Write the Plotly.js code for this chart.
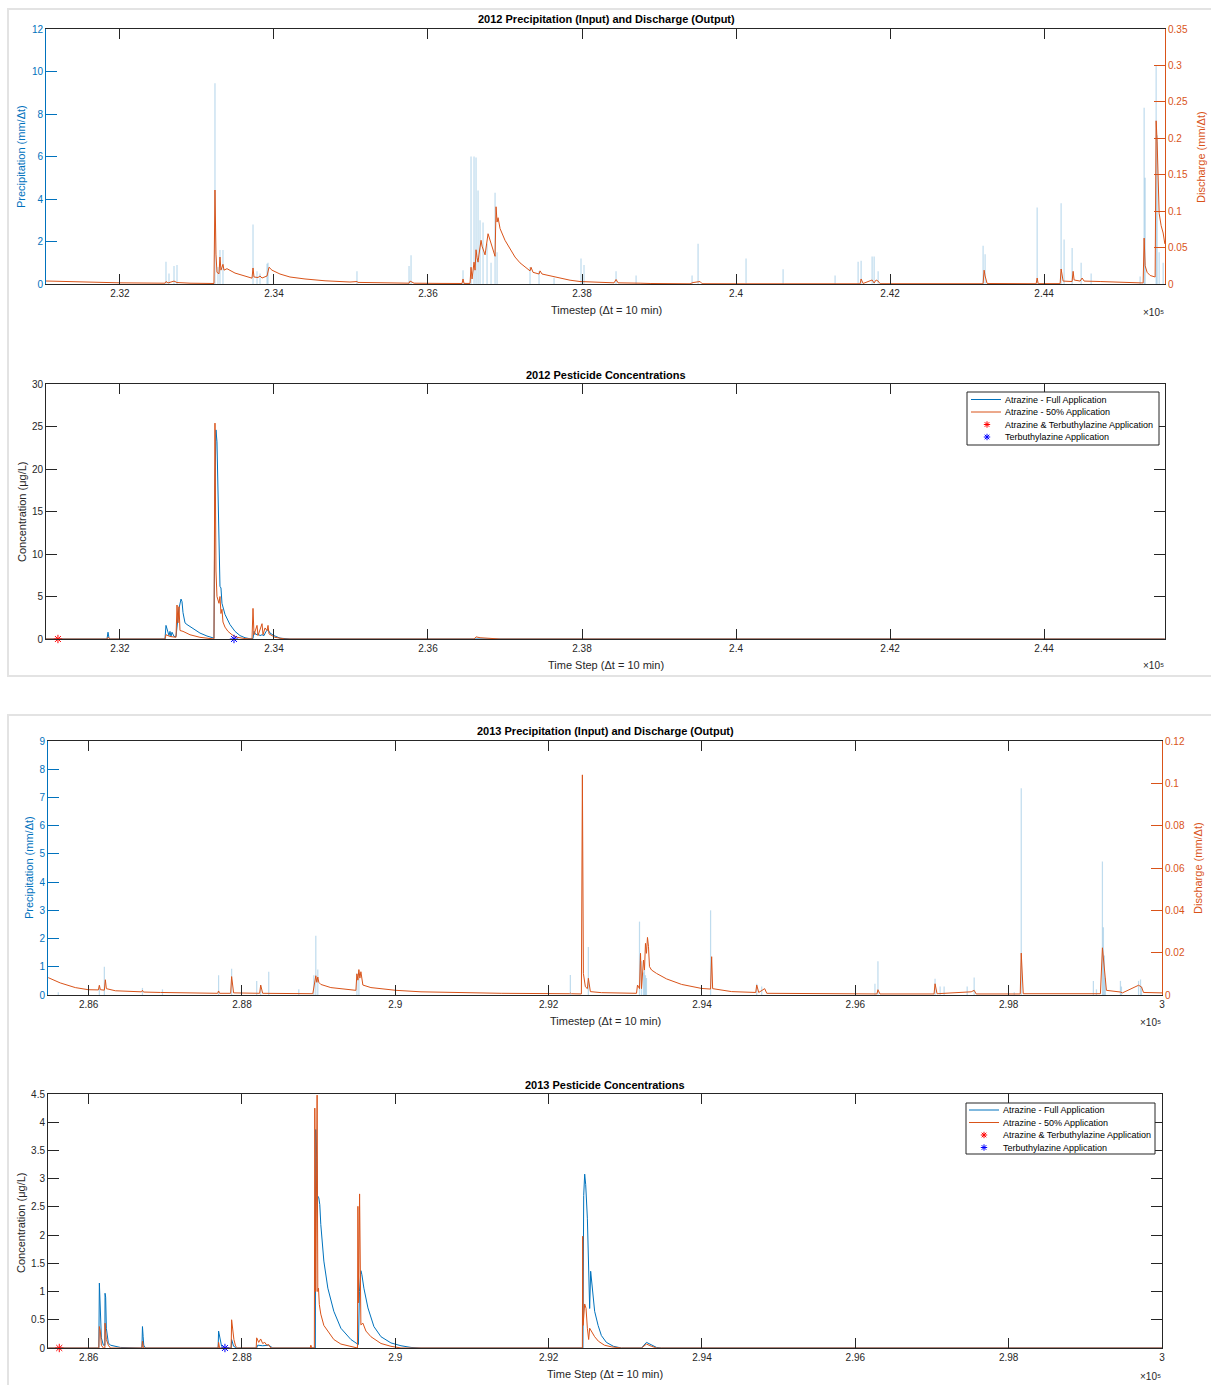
<!DOCTYPE html>
<html>
<head>
<meta charset="utf-8">
<script src="https://cdn.plot.ly/plotly-3.0.1.min.js"></script>
<style>
  body { margin: 0; background: #fff; }
  #chart { width: 1211px; height: 1385px; }
</style>
</head>
<body>
<div id="chart"></div>
<script>
// ---------- 2012 data ----------
var precip12T = [232598, 232637, 232702, 232741, 233234, 233273, 233299, 233338, 233728, 233780,
  233819, 233910, 233923, 235078, 235754, 235780, 236455, 236559, 236598, 236624,
  236650, 236676, 236715, 236767, 236819, 236871, 236897, 237325, 237442, 237637,
  237987, 238026, 238442, 238702, 239429, 239507, 240130, 240611, 241286, 241585,
  241624, 241767, 241793, 241845, 243208, 243234, 243910, 244221, 244260, 244364,
  244481, 244611, 245247, 245299, 245312, 245455, 245468, 245494, 245546]
var precip12 = [1.05, 0.5, 0.85, 0.9, 9.45, 0.8, 1.6, 1.6, 2.8, 0.6,
  0.5, 0.95, 1.0, 0.6, 0.85, 1.35, 0.65, 6.0, 6.0, 5.95,
  4.4, 3.0, 2.9, 1.9, 1.0, 4.3, 1.5, 0.8, 0.6, 0.3,
  1.2, 0.9, 0.6, 0.4, 0.4, 1.9, 1.2, 0.7, 0.4, 1.05,
  1.1, 1.3, 1.3, 0.6, 1.8, 1.4, 3.6, 3.8, 2.1, 1.7,
  1.0, 0.5, 0.35, 8.3, 5.0, 10.3, 7.0, 1.5, 1.0]

var discharge12T = [231040, 231481, 232000, 232585, 232598, 232624, 232702, 232741, 232910, 233221,
  233234, 233247, 233260, 233286, 233299, 233312, 233338, 233351, 233390, 233494,
  233624, 233715, 233728, 233741, 233793, 233819, 233845, 233910, 233936, 233974,
  234078, 234208, 234403, 234663, 234987, 235078, 235091, 235377, 235754, 235767,
  235793, 235819, 236156, 236442, 236455, 236468, 236546, 236559, 236572, 236585,
  236598, 236611, 236624, 236637, 236650, 236663, 236689, 236702, 236741, 236780,
  236806, 236845, 236871, 236884, 236897, 236910, 236936, 237000, 237065, 237130,
  237195, 237260, 237325, 237338, 237364, 237442, 237455, 237481, 237585, 237715,
  237845, 237974, 238169, 238416, 238442, 238468, 238754, 238884, 239403, 239442,
  239533, 239559, 240117, 240611, 240624, 241611, 241624, 241650, 241767, 241793,
  241819, 241845, 241871, 243208, 243221, 243234, 243260, 243897, 243910, 243923,
  244208, 244221, 244247, 244364, 244377, 244390, 244468, 244494, 244520, 244728,
  244987, 245247, 245286, 245299, 245312, 245338, 245377, 245442, 245455, 245468,
  245481, 245494, 245520, 245546, 245568]
var discharge12 = [0.0041, 0.0027, 0.0016, 0.0011, 0.0034, 0.0014, 0.004, 0.002, 0.0011, 0.0007,
  0.129, 0.041, 0.016, 0.014, 0.037, 0.019, 0.027, 0.019, 0.021, 0.015,
  0.011, 0.008, 0.022, 0.0096, 0.0089, 0.011, 0.0082, 0.011, 0.023, 0.019,
  0.0137, 0.0096, 0.0069, 0.0044, 0.0027, 0.0034, 0.0022, 0.0016, 0.0011, 0.004,
  0.0027, 0.0011, 0.0008, 0.0007, 0.0069, 0.0008, 0.0008, 0.023, 0.0069, 0.019,
  0.030, 0.019, 0.047, 0.036, 0.030, 0.041, 0.060, 0.052, 0.040, 0.069,
  0.060, 0.045, 0.038, 0.106, 0.085, 0.091, 0.076, 0.060, 0.048, 0.037,
  0.029, 0.023, 0.018, 0.023, 0.016, 0.0137, 0.018, 0.0137, 0.011, 0.0076,
  0.0052, 0.0034, 0.0022, 0.0016, 0.0062, 0.0016, 0.0011, 0.0007, 0.0003, 0.002,
  0.0034, 0.0004, 0.0003, 0.0011, 0.0003, 0.0003, 0.0069, 0.0007, 0.0055, 0.0014,
  0.0055, 0.004, 0.0004, 0.0004, 0.019, 0.011, 0.0007, 0.0004, 0.0082, 0.0005,
  0.0005, 0.0206, 0.004, 0.0034, 0.0174, 0.0055, 0.004, 0.0082, 0.004, 0.0034,
  0.0027, 0.0016, 0.0014, 0.063, 0.025, 0.016, 0.0117, 0.0096, 0.224, 0.195,
  0.137, 0.097, 0.080, 0.070, 0.055]

var full12T = [231040, 231832, 231845, 231858, 231871, 232585, 232598, 232611, 232624, 232637,
  232650, 232663, 232676, 232702, 232728, 232754, 232767, 232793, 232806, 232819,
  232845, 232871, 232936, 233039, 233130, 233221, 233234, 233247, 233260, 233273,
  233286, 233299, 233312, 233325, 233364, 233429, 233494, 233559, 233624, 233689,
  233728, 233741, 233767, 233793, 233819, 233845, 233871, 233897, 233923, 233949,
  234001, 234078, 234208, 245568]
var full12 = [0, 0, 0.8, 0.1, 0, 0, 1.6, 1.1, 0.9, 0.4,
  0.9, 0.3, 0.8, 0.3, 0.3, 2.5, 3.6, 4.7, 4.4, 3.1,
  1.9, 1.7, 1.3, 0.7, 0.35, 0.1, 18, 24.6, 23.2, 16.5,
  14.8, 6.2, 6.0, 4.2, 2.9, 1.7, 0.9, 0.4, 0.15, 0.03,
  0.05, 0.9, 0.5, 0.6, 0.4, 0.5, 0.4, 0.9, 1.1, 0.7,
  0.4, 0.1, 0, 0]

var half12T = [231040, 231832, 231845, 231871, 232585, 232598, 232650, 232728, 232741, 232754,
  232767, 232780, 232819, 232910, 233039, 233169, 233221, 233234, 233247, 233260,
  233286, 233299, 233312, 233325, 233338, 233364, 233403, 233455, 233520, 233624,
  233715, 233728, 233741, 233780, 233793, 233845, 233858, 233884, 233910, 233923,
  233936, 234013, 234143, 236598, 236624, 236676, 236806, 236936, 245568]
var half12 = [0, 0, 0.2, 0, 0, 0.5, 0.3, 0.2, 4.0, 1.9,
  3.8, 1.0, 0.9, 0.5, 0.2, 0.05, 0, 25.4, 8, 5.0,
  4.2, 5.0, 3.0, 3.5, 2.0, 1.4, 0.9, 0.5, 0.2, 0.05,
  0, 3.6, 0.5, 1.6, 0.4, 1.8, 0.5, 1.3, 1.0, 1.6,
  0.6, 0.2, 0, 0, 0.25, 0.15, 0.05, 0, 0]

var bothApp12T = [231195]
var terbApp12T = [233481]

// ---------- 2013 data ----------
var precip13T = [285604, 286140, 286205, 286702, 286963, 287695, 287865, 288192, 288244, 288349,
  288741, 288937, 288963, 288989, 289499, 289525, 292283, 292518, 293185, 293211,
  293237, 293250, 293263, 293276, 294112, 294714, 294779, 296256, 296295, 297040,
  297106, 297158, 297459, 297550, 298073, 298164, 299105, 299145, 299223, 299236,
  299249, 299262, 299458, 299471, 299694, 299720, 299733]
var precip13 = [0.1, 0.34, 1.0, 0.25, 0.2, 0.7, 0.93, 0.5, 0.35, 0.82,
  0.2, 0.7, 2.1, 0.9, 0.76, 0.6, 0.71, 1.7, 2.6, 1.2,
  0.8, 0.9, 0.7, 0.6, 3.0, 0.4, 0.3, 0.4, 1.2, 0.58,
  0.3, 0.3, 0.3, 0.62, 0.1, 7.33, 0.5, 0.2, 4.73, 2.4,
  1.4, 0.6, 0.5, 0.3, 0.5, 0.55, 0.3]

var discharge13T = [285473, 285630, 285826, 285996, 286127, 286140, 286153, 286205, 286218, 286231,
  286349, 286689, 286702, 286715, 286937, 287460, 287682, 287695, 287708, 287852,
  287865, 287891, 288231, 288244, 288270, 288924, 288950, 288963, 288976, 288989,
  289002, 289028, 289159, 289421, 289486, 289499, 289512, 289525, 289538, 289551,
  289577, 289682, 290009, 290335, 291381, 292270, 292283, 292296, 292427, 292440,
  292453, 292479, 292505, 292518, 292544, 292688, 293080, 293146, 293159, 293185,
  293198, 293211, 293237, 293250, 293263, 293276, 293289, 293302, 293315, 293342,
  293407, 293538, 293734, 293995, 294112, 294126, 294139, 294387, 294701, 294714,
  294740, 294818, 294845, 295302, 296282, 296295, 296321, 297027, 297040, 297066,
  297511, 297550, 297576, 298151, 298164, 298190, 299197, 299223, 299236, 299249,
  299275, 299458, 299484, 299694, 299733, 299759, 300000]
var discharge13 = [0.0082, 0.0057, 0.0035, 0.0025, 0.0024, 0.0046, 0.0025, 0.0023, 0.0072, 0.003,
  0.002, 0.0015, 0.0022, 0.0014, 0.0012, 0.0008, 0.0008, 0.0019, 0.0008, 0.0008,
  0.0087, 0.001, 0.0008, 0.0047, 0.0008, 0.0006, 0.0053, 0.0091, 0.006, 0.0085,
  0.006, 0.005, 0.0035, 0.0025, 0.0022, 0.010, 0.007, 0.012, 0.008, 0.011,
  0.0047, 0.0035, 0.0022, 0.0015, 0.0008, 0.0006, 0.0009, 0.0006, 0.0005, 0.104,
  0.0102, 0.0039, 0.003, 0.0079, 0.0016, 0.0011, 0.0008, 0.0008, 0.0047, 0.003,
  0.0197, 0.003, 0.0165, 0.0118, 0.0244, 0.0197, 0.0272, 0.023, 0.0134, 0.0118,
  0.0102, 0.0076, 0.005, 0.0031, 0.0028, 0.0181, 0.003, 0.0016, 0.0012, 0.0047,
  0.0012, 0.003, 0.0008, 0.0006, 0.0005, 0.0025, 0.0005, 0.0005, 0.0053, 0.0006,
  0.0015, 0.0022, 0.0005, 0.0005, 0.0198, 0.0006, 0.0006, 0.0223, 0.017, 0.015,
  0.0022, 0.0014, 0.001, 0.0046, 0.0038, 0.0012, 0.001]

var full13T = [285473, 286133, 286140, 286153, 286166, 286192, 286212, 286214, 286222, 286231,
  286257, 286284, 286349, 286414, 286695, 286702, 286711, 286719, 286741, 287689,
  287695, 287721, 287734, 287761, 287859, 287865, 287891, 287930, 288192, 288205,
  288270, 288349, 288401, 288957, 288963, 288976, 288985, 289002, 289015, 289028,
  289068, 289120, 289198, 289290, 289421, 289519, 289532, 289551, 289564, 289590,
  289643, 289721, 289813, 289943, 290074, 290205, 290335, 292447, 292449, 292457,
  292470, 292483, 292505, 292527, 292535, 292548, 292570, 292600, 292645, 292688,
  292753, 292845, 292949, 293211, 293276, 293342, 293407, 293472, 300000]
var full13 = [0, 0, 1.15, 0.71, 0.18, 0.05, 0.05, 0.97, 0.9, 0.35,
  0.09, 0.05, 0.03, 0.01, 0, 0.38, 0.2, 0.05, 0, 0,
  0.3, 0.12, 0.03, 0, 0, 0.15, 0.03, 0, 0, 0.05,
  0.04, 0.05, 0, 0, 3.87, 3.37, 2.7, 2.66, 2.54, 2.19,
  1.54, 1.06, 0.65, 0.35, 0.15, 0.06, 1.0, 1.37, 1.3, 1.06,
  0.71, 0.38, 0.2, 0.09, 0.04, 0.01, 0, 0, 2.0, 2.7,
  3.08, 2.9, 2.3, 1.3, 0.7, 1.36, 1.0, 0.65, 0.4, 0.22,
  0.1, 0.03, 0, 0, 0.1, 0.06, 0.01, 0, 0]

var half13T = [285473, 286133, 286140, 286153, 286166, 286192, 286212, 286214, 286231, 286257,
  286284, 286695, 286702, 286715, 287689, 287695, 287708, 287859, 287865, 287878,
  287895, 287917, 287943, 288185, 288192, 288218, 288244, 288270, 288297, 288323,
  288349, 288375, 288891, 288898, 288911, 288944, 288950, 288963, 288980, 288989,
  288998, 289009, 289028, 289068, 289120, 289198, 289290, 289421, 289506, 289512,
  289521, 289534, 289542, 289551, 289577, 289617, 289682, 289813, 289943, 290074,
  292440, 292444, 292449, 292470, 292488, 292505, 292522, 292535, 292557, 292600,
  292649, 292727, 292819, 292949, 293211, 293276, 293342, 293407, 300000]
var half13 = [0, 0, 0.38, 0.3, 0.05, 0, 0, 0.44, 0.15, 0.05,
  0, 0, 0.12, 0, 0, 0.1, 0, 0, 0.5, 0.35,
  0.15, 0.03, 0, 0, 0.18, 0.1, 0.16, 0.08, 0.1, 0.05,
  0.06, 0, 0, 0.05, 0, 0, 4.25, 1.0, 4.48, 1.0,
  1.06, 0.77, 0.6, 0.4, 0.3, 0.15, 0.07, 0.02, 0, 2.51,
  0.8, 2.73, 0.5, 0.41, 0.44, 0.3, 0.2, 0.08, 0.03, 0,
  0, 1.98, 0.4, 0.78, 0.7, 0.35, 0.15, 0.35, 0.3, 0.2,
  0.12, 0.05, 0.02, 0, 0, 0.07, 0.03, 0, 0]

var bothApp13T = [285617]
var terbApp13T = [287778]

// ---------- ticks / names ----------
var ticks12 = [232000, 234000, 236000, 238000, 240000, 242000, 244000]
var tickText12 = ['2.32', '2.34', '2.36', '2.38', '2.4', '2.42', '2.44']
var ticks13 = [286000, 288000, 290000, 292000, 294000, 296000, 298000, 300000]
var tickText13 = ['2.86', '2.88', '2.9', '2.92', '2.94', '2.96', '2.98', '3']

var legendNames = ['Atrazine - Full Application', 'Atrazine - 50% Application',
  'Atrazine & Terbuthylazine Application', 'Terbuthylazine Application']

// ---------- helpers ----------
var W = 1211, H = 1385
var BLUE = '#0072BD', ORANGE = '#D95319', AX = '#262626'
var FONT = 'Liberation Sans, Arial, Helvetica, sans-serif'

function px(x) { return x / W }
function py(y) { return 1 - y / H }

function zeros(arr) { return arr.map(function () { return 0 }) }

function xAxis(domain, range, vals, text, anchor) {
    return {
        domain: domain, range: range, anchor: anchor,
        tickmode: 'array', tickvals: vals, ticktext: text,
        ticks: 'inside', ticklen: 10, tickcolor: AX, tickwidth: 1,
        showline: true, linecolor: AX, linewidth: 1, mirror: 'ticks',
        showgrid: false, zeroline: false,
        tickfont: { family: FONT, size: 10, color: AX }
    }
}

function yAxis(domain, range, dtick, color, anchor, mirror) {
    return {
        domain: domain, range: range, anchor: anchor, dtick: dtick, tick0: 0,
        ticks: 'inside', ticklen: 11, tickcolor: color, tickwidth: 1,
        showline: true, linecolor: color, linewidth: 1, mirror: mirror,
        showgrid: false, zeroline: false,
        tickfont: { family: FONT, size: 10, color: color }
    }
}

function label(text, x, y, opts) {
    opts = opts || {}
    return {
        text: text, xref: 'paper', yref: 'paper', x: px(x), y: py(y),
        xanchor: opts.anchor || 'center', yanchor: 'middle', showarrow: false,
        textangle: opts.angle || 0,
        font: { family: FONT, size: opts.size || 11, color: opts.color || AX, weight: opts.weight || 'normal' }
    }
}

// MATLAB-like legend box: rows at given pixel y, line sample, asterisk sample, text
var shapes = []
var notes = []

function asterisk(cx, cy, color) {
    var r = 3.2, d = 2.3
    var p = 'M' + px(cx - r) + ',' + py(cy) + ' L' + px(cx + r) + ',' + py(cy) +
        ' M' + px(cx) + ',' + py(cy - r) + ' L' + px(cx) + ',' + py(cy + r) +
        ' M' + px(cx - d) + ',' + py(cy - d) + ' L' + px(cx + d) + ',' + py(cy + d) +
        ' M' + px(cx - d) + ',' + py(cy + d) + ' L' + px(cx + d) + ',' + py(cy - d)
    return { type: 'path', xref: 'paper', yref: 'paper', path: p, line: { color: color, width: 1 } }
}

function drawLegend(x0, x1, y0, y1, rows, lineX0, lineX1, markX, textX) {
    shapes.push({ type: 'rect', xref: 'paper', yref: 'paper', x0: px(x0), x1: px(x1), y0: py(y1), y1: py(y0),
        line: { color: AX, width: 1 }, fillcolor: '#ffffff', layer: 'above' })
    shapes.push({ type: 'line', xref: 'paper', yref: 'paper', x0: px(lineX0), x1: px(lineX1),
        y0: py(rows[0]), y1: py(rows[0]), line: { color: BLUE, width: 1 } })
    shapes.push({ type: 'line', xref: 'paper', yref: 'paper', x0: px(lineX0), x1: px(lineX1),
        y0: py(rows[1]), y1: py(rows[1]), line: { color: ORANGE, width: 1 } })
    shapes.push(asterisk(markX, rows[2], '#ff0000'))
    shapes.push(asterisk(markX, rows[3], '#0000ff'))
    for (var i = 0; i < 4; i++) {
        notes.push(label(legendNames[i], textX, rows[i], { anchor: 'left', size: 9, color: '#000' }))
    }
}

// ---------- traces ----------
var traces = [
    // 2012 precip + discharge
    { type: 'bar', x: precip12T, y: precip12, width: 16, xaxis: 'x', yaxis: 'y',
      marker: { color: 'rgba(0,114,189,0.25)', line: { width: 0 } }, name: 'Precipitation' },
    { type: 'scatter', mode: 'lines', x: discharge12T, y: discharge12, xaxis: 'x', yaxis: 'y5',
      line: { color: ORANGE, width: 1 }, name: 'Discharge' },

    // 2012 concentrations
    { type: 'scatter', mode: 'lines', x: full12T, y: full12, xaxis: 'x2', yaxis: 'y2',
      line: { color: BLUE, width: 1 }, name: legendNames[0] },
    { type: 'scatter', mode: 'lines', x: half12T, y: half12, xaxis: 'x2', yaxis: 'y2',
      line: { color: ORANGE, width: 1 }, name: legendNames[1] },
    { type: 'scatter', mode: 'markers', x: bothApp12T, y: zeros(bothApp12T), xaxis: 'x2', yaxis: 'y2',
      marker: { symbol: 'asterisk-open', size: 7, color: '#ff0000', line: { color: '#ff0000', width: 1 } },
      cliponaxis: false, name: legendNames[2] },
    { type: 'scatter', mode: 'markers', x: terbApp12T, y: zeros(terbApp12T), xaxis: 'x2', yaxis: 'y2',
      marker: { symbol: 'asterisk-open', size: 7, color: '#0000ff', line: { color: '#0000ff', width: 1 } },
      cliponaxis: false, name: legendNames[3] },

    // 2013 precip + discharge
    { type: 'bar', x: precip13T, y: precip13, width: 16, xaxis: 'x3', yaxis: 'y3',
      marker: { color: 'rgba(0,114,189,0.25)', line: { width: 0 } }, name: 'Precipitation' },
    { type: 'scatter', mode: 'lines', x: discharge13T, y: discharge13, xaxis: 'x3', yaxis: 'y6',
      line: { color: ORANGE, width: 1 }, name: 'Discharge' },

    // 2013 concentrations
    { type: 'scatter', mode: 'lines', x: full13T, y: full13, xaxis: 'x4', yaxis: 'y4',
      line: { color: BLUE, width: 1 }, name: legendNames[0] },
    { type: 'scatter', mode: 'lines', x: half13T, y: half13, xaxis: 'x4', yaxis: 'y4',
      line: { color: ORANGE, width: 1 }, name: legendNames[1] },
    { type: 'scatter', mode: 'markers', x: bothApp13T, y: zeros(bothApp13T), xaxis: 'x4', yaxis: 'y4',
      marker: { symbol: 'asterisk-open', size: 7, color: '#ff0000', line: { color: '#ff0000', width: 1 } },
      cliponaxis: false, name: legendNames[2] },
    { type: 'scatter', mode: 'markers', x: terbApp13T, y: zeros(terbApp13T), xaxis: 'x4', yaxis: 'y4',
      marker: { symbol: 'asterisk-open', size: 7, color: '#0000ff', line: { color: '#0000ff', width: 1 } },
      cliponaxis: false, name: legendNames[3] }
]

// ---------- layout ----------
var dom12 = [px(46), px(1165)]
var dom13 = [px(48), px(1162)]
var range12 = [231040, 245570]
var range13 = [285470, 300000]

var y5 = yAxis([py(284), py(29)], [0, 0.35], 0.05, ORANGE, 'x', false)
y5.overlaying = 'y'; y5.side = 'right'
var y6 = yAxis([py(995), py(741)], [0, 0.12], 0.02, ORANGE, 'x3', false)
y6.overlaying = 'y3'; y6.side = 'right'

// figure panels
shapes.push({ type: 'rect', xref: 'paper', yref: 'paper', x0: px(8), x1: 1.01, y0: py(676), y1: py(9),
    line: { color: '#e3e3e3', width: 2 }, fillcolor: 'rgba(0,0,0,0)', layer: 'below' })
shapes.push({ type: 'rect', xref: 'paper', yref: 'paper', x0: px(8), x1: 1.01, y0: -0.01, y1: py(715),
    line: { color: '#e3e3e3', width: 2 }, fillcolor: 'rgba(0,0,0,0)', layer: 'below' })

var exp5 = '\u00d710\u2075'

notes.push(
    label('2012 Precipitation (Input) and Discharge (Output)', 606, 19, { color: '#000', weight: 'bold' }),
    label('Timestep (\u0394t = 10 min)', 606, 310),
    label(exp5, 1153, 312, { size: 10 }),
    label('Precipitation (mm/\u0394t)', 21, 157, { angle: -90, color: BLUE }),
    label('Discharge (mm/\u0394t)', 1201, 157, { angle: -90, color: ORANGE }),

    label('2012 Pesticide Concentrations', 606, 375, { color: '#000', weight: 'bold' }),
    label('Time Step (\u0394t = 10 min)', 606, 665),
    label(exp5, 1153, 666, { size: 10 }),
    label('Concentration (\u03bcg/L)', 22, 512, { angle: -90 }),

    label('2013 Precipitation (Input) and Discharge (Output)', 605, 731, { color: '#000', weight: 'bold' }),
    label('Timestep (\u0394t = 10 min)', 605, 1021),
    label(exp5, 1150, 1022, { size: 10 }),
    label('Precipitation (mm/\u0394t)', 29, 868, { angle: -90, color: BLUE }),
    label('Discharge (mm/\u0394t)', 1198, 868, { angle: -90, color: ORANGE }),

    label('2013 Pesticide Concentrations', 605, 1085, { color: '#000', weight: 'bold' }),
    label('Time Step (\u0394t = 10 min)', 605, 1374),
    label(exp5, 1150, 1376, { size: 10 }),
    label('Concentration (\u03bcg/L)', 21, 1222, { angle: -90 })
)

drawLegend(967, 1159, 392, 445, [399.5, 412, 424.5, 437], 971, 1001, 987, 1003)
drawLegend(966, 1155, 1103, 1154, [1110, 1122.5, 1135, 1147.5], 969, 999, 984, 1001)

var layout = {
    width: W, height: H, autosize: false,
    margin: { l: 0, r: 0, t: 0, b: 0 },
    paper_bgcolor: '#ffffff', plot_bgcolor: '#ffffff',
    showlegend: false,
    barmode: 'overlay',
    font: { family: FONT, color: AX },

    xaxis: xAxis(dom12, range12, ticks12, tickText12, 'y'),
    yaxis: yAxis([py(284), py(29)], [0, 12], 2, BLUE, 'x', false),
    yaxis5: y5,

    xaxis2: xAxis(dom12, range12, ticks12, tickText12, 'y2'),
    yaxis2: yAxis([py(639), py(384)], [0, 30], 5, AX, 'x2', 'ticks'),

    xaxis3: xAxis(dom13, range13, ticks13, tickText13, 'y3'),
    yaxis3: yAxis([py(995), py(741)], [0, 9], 1, BLUE, 'x3', false),
    yaxis6: y6,

    xaxis4: xAxis(dom13, range13, ticks13, tickText13, 'y4'),
    yaxis4: yAxis([py(1348), py(1094)], [0, 4.5], 0.5, AX, 'x4', 'ticks'),

    shapes: shapes,
    annotations: notes
}

Plotly.newPlot('chart', traces, layout, { displayModeBar: false, staticPlot: true })
</script>
</body>
</html>
